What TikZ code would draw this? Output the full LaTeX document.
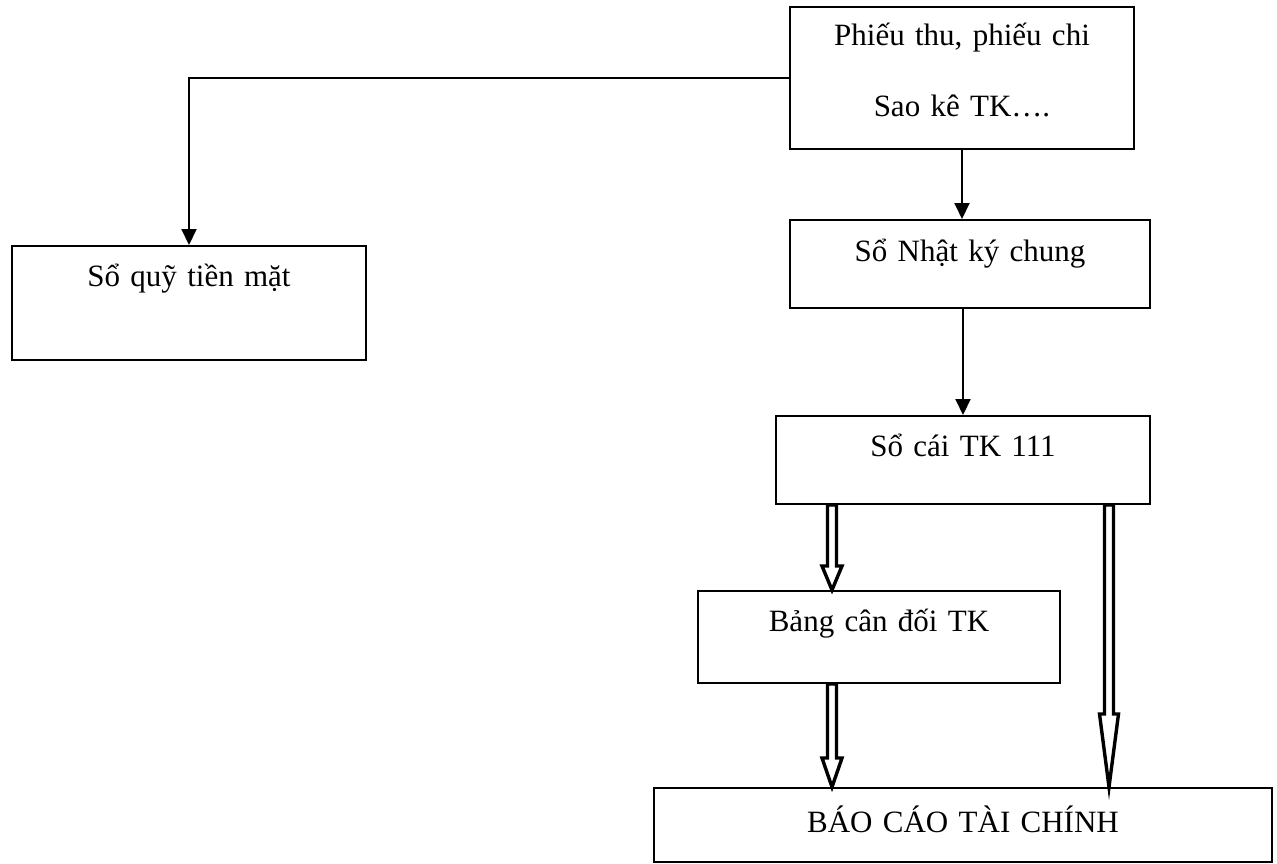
\documentclass[tikz,border=0pt]{standalone}
\usepackage{fontspec}
\setmainfont{Liberation Serif}
\usetikzlibrary{arrows.meta,calc}
\begin{document}
\begin{tikzpicture}[x=1pt,y=-1pt,
  box/.style={draw, line width=2pt, inner sep=0pt, anchor=north west,
    align=center, font=\fontsize{31}{36}\selectfont},
  flow/.style={line width=2pt, -{Triangle[width=15pt,length=16pt]}},
  hollow/.style={draw, line width=3.4pt, line join=miter, fill=white}]
\useasboundingbox (0,0) rectangle (1277,863);

% hollow block arrow: start, tip, head length, shaft half-width, head half-width
\newcommand\hollowarrow[5]{%
  \draw[hollow] ($(#1)+(-#4,0)$) -- ($(#2)+(-#4,-#3)$) -- ($(#2)+(-#5,-#3)$)
    -- (#2) -- ($(#2)+(#5,-#3)$) -- ($(#2)+(#4,-#3)$) -- ($(#1)+(#4,0)$) -- cycle;}

\node[box, text width=344pt, text height=38pt, text depth=104pt] (ct) at (789,6)
  {Phiếu thu, phiếu chi\\[35pt]Sao kê TK….};
\node[box, text width=354pt, text height=40pt, text depth=74pt] (sq) at (11,245)
  {Sổ quỹ tiền mặt};
\node[box, text width=360pt, text height=41pt, text depth=47pt] (nk) at (789,219)
  {Sổ Nhật ký chung};
\node[box, text width=374pt, text height=40pt, text depth=48pt] (sc) at (775,415)
  {Sổ cái TK 111};
\node[box, text width=362pt, text height=40pt, text depth=52pt] (bcd) at (697,590)
  {Bảng cân đối TK};
\node[box, text width=618pt, text height=44pt, text depth=30pt] (bc) at (653,787)
  {BÁO CÁO TÀI CHÍNH};

% thin connectors
\draw[flow] (ct.west) -| (sq.north);
\draw[flow] (ct.south) -- (ct.south |- nk.north);
\draw[flow] (sc.north |- nk.south) -- (sc.north);

% block arrows
\coordinate (a1s) at ([xshift=57pt]sc.south west);
\coordinate (a1t) at (a1s |- bcd.north);
\coordinate (a2s) at ([xshift=334pt]sc.south west);
\coordinate (a2t) at (a2s |- bc.north);
\coordinate (a3s) at ([xshift=135pt]bcd.south west);
\coordinate (a3t) at (a3s |- bc.north);
\hollowarrow{a1s}{a1t}{24}{4.5}{10}
\hollowarrow{a3s}{a3t}{29}{4.5}{10}
\hollowarrow{a2s}{a2t}{73}{4.5}{9.5}
\end{tikzpicture}
\end{document}
